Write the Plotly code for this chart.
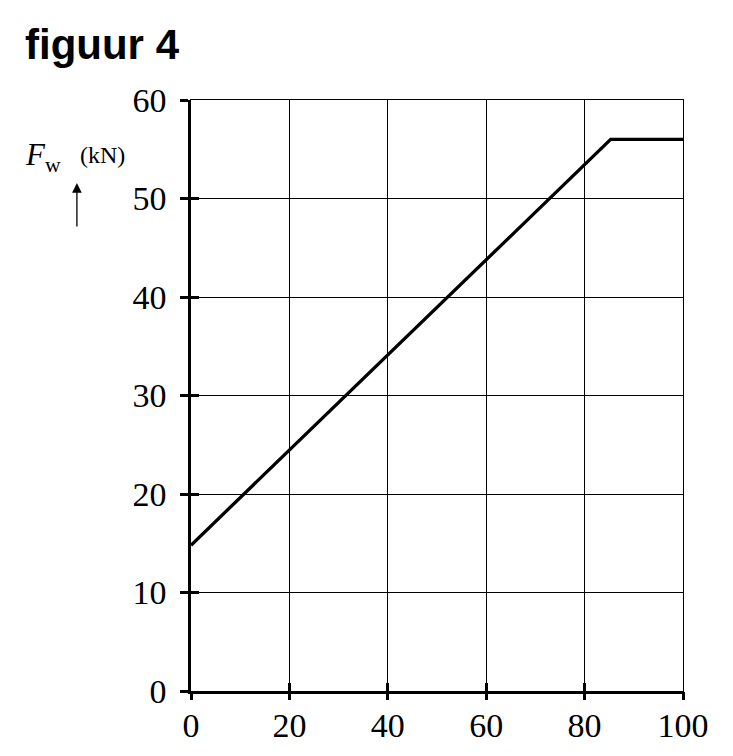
import plotly.graph_objects as go

# data
x_vals = [0, 85.3, 100]
fw_vals = [14.8, 56.0, 56.0]
x_ticks = [0, 20, 40, 60, 80, 100]
y_ticks = [0, 10, 20, 30, 40, 50, 60]

W, H = 733, 756
OFF = 8  # page body margin
L, T = 191 - OFF, 100 - OFF
pw, ph = 491.6, 591
R = W - L - pw
B = H - T - ph

def px(xp):
    return (xp - OFF - L) / pw

def py(yp):
    return (T + ph + OFF - yp) / ph

serif = "Liberation Serif"
fig = go.Figure()
fig.add_trace(go.Scatter(x=x_vals, y=fw_vals, mode="lines",
                         line=dict(color="black", width=3.3), showlegend=False,
                         hoverinfo="skip"))
fig.add_trace(go.Scatter(x=[0], y=[0], xaxis="x2", yaxis="y2", mode="markers",
                         marker=dict(opacity=0), showlegend=False, hoverinfo="skip"))

tickfont = dict(family=serif, size=34, color="black")
grid = dict(showgrid=True, gridcolor="black", gridwidth=1.3, zeroline=False)

fig.update_layout(
    width=W, height=H,
    margin=dict(l=L, r=R, t=T, b=B),
    paper_bgcolor="white", plot_bgcolor="white",
    xaxis=dict(range=[0, 100], tickvals=x_ticks, ticktext=[str(v) for v in x_ticks],
               showline=True, linecolor="black", linewidth=2.5,
               ticks="inside", ticklen=8, tickwidth=2.5, tickcolor="black",
               tickfont=tickfont, ticklabelstandoff=2, **grid),
    yaxis=dict(range=[0, 60], tickvals=y_ticks, ticktext=[str(v) for v in y_ticks],
               showline=True, linecolor="black", linewidth=2.5,
               ticks="outside", ticklen=8, tickwidth=2.5, tickcolor="black",
               tickfont=tickfont, ticklabelstandoff=7, **grid),
    xaxis2=dict(overlaying="x", side="bottom", range=[0, 100], tickvals=x_ticks,
                showticklabels=False, showgrid=False, zeroline=False,
                showline=True, linecolor="black", linewidth=1.3, mirror=True,
                ticks="outside", ticklen=8, tickwidth=2.5, tickcolor="black"),
    yaxis2=dict(overlaying="y", side="left", range=[0, 60], tickvals=y_ticks,
                showticklabels=False, showgrid=False, zeroline=False,
                showline=True, linecolor="black", linewidth=1.3, mirror=True,
                ticks="inside", ticklen=8, tickwidth=2.5, tickcolor="black"),
    annotations=[
        dict(text="<b>figuur 4</b>", xref="paper", yref="paper",
             x=px(23), y=py(45), xanchor="left", yanchor="middle", showarrow=False,
             font=dict(family="Liberation Sans", size=42, color="black")),
        dict(text="<i>F</i><sub>w</sub>", xref="paper", yref="paper",
             x=px(23), y=py(157), xanchor="left", yanchor="middle", showarrow=False,
             font=dict(family=serif, size=31, color="black")),
        dict(text="(kN)", xref="paper", yref="paper",
             x=px(78), y=py(155), xanchor="left", yanchor="middle", showarrow=False,
             font=dict(family=serif, size=24, color="black")),
        dict(text="", xref="paper", yref="paper", x=px(77), y=py(183),
             showarrow=True, ax=0, ay=45, axref="pixel", ayref="pixel",
             arrowhead=2, arrowsize=1.5, arrowwidth=1.3, arrowcolor="black"),
    ],
)
fig.write_html("out.html")
